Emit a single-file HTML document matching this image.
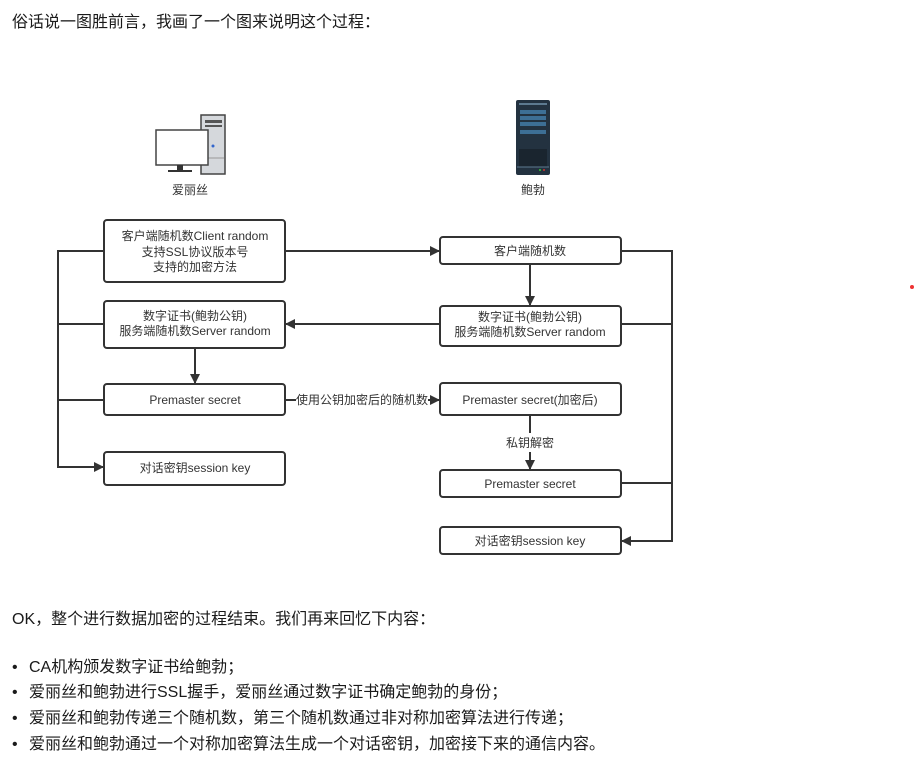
<!DOCTYPE html>
<html><head><meta charset="utf-8"><style>
html,body{margin:0;padding:0;background:#fff;width:917px;height:769px;overflow:hidden}
svg{display:block}
text{font-family:"Liberation Sans","Noto Sans CJK SC",sans-serif;fill:#222}
.b{font-size:16px;fill:#1a1a1a}
.d{font-size:12px;fill:#333;text-anchor:middle}
rect.n{fill:#fff;stroke:#333;stroke-width:2;rx:3}
line,polyline{stroke:#333;stroke-width:2;fill:none}
</style></head><body>
<svg width="917" height="769" viewBox="0 0 917 769">
<defs><marker id="a" markerWidth="10" markerHeight="10" refX="9" refY="5" orient="auto" markerUnits="userSpaceOnUse"><path d="M0,0 L10,5 L0,10 z" fill="#333"/></marker></defs>
<text class="b" x="12" y="27">俗话说一图胜前言，我画了一个图来说明这个过程：</text>

<rect x="201" y="115" width="24" height="59" fill="#d5d8dc" stroke="#444" stroke-width="1.5"/>
<rect x="205" y="120" width="17" height="3" fill="#555"/>
<rect x="205" y="125" width="17" height="2" fill="#555"/>
<line x1="202" y1="158" x2="224" y2="158" style="stroke:#999;stroke-width:1"/>
<circle cx="213" cy="146" r="1.5" fill="#3366cc"/>
<rect x="156" y="130" width="52" height="35" fill="#fff" stroke="#444" stroke-width="1.5"/>
<rect x="177" y="165" width="6" height="6" fill="#333"/>
<rect x="168" y="170" width="24" height="2" fill="#333"/>
<text class="d" x="190" y="194">爱丽丝</text>

<rect x="516" y="100" width="34" height="75" rx="2" fill="#233240"/>
<rect x="519" y="103" width="28" height="2" fill="#5d7a90"/>
<rect x="520" y="110" width="26" height="4" fill="#3d6f95"/>
<rect x="520" y="116" width="26" height="4" fill="#3d6f95"/>
<rect x="520" y="122" width="26" height="4" fill="#3d6f95"/>
<rect x="520" y="130" width="26" height="4" fill="#3d6f95"/>
<rect x="519" y="149" width="28" height="18" fill="#1a252f"/>
<line x1="517" y1="167" x2="549" y2="167" style="stroke:#5d7a90;stroke-width:1"/>
<circle cx="540" cy="170" r="1" fill="#3c3"/><circle cx="544" cy="170" r="1" fill="#c33"/>
<text class="d" x="533" y="194">鲍勃</text>

<line x1="285" y1="251" x2="439" y2="251" marker-end="url(#a)"/>
<line x1="530" y1="264" x2="530" y2="305" marker-end="url(#a)"/>
<line x1="440" y1="324" x2="286" y2="324" marker-end="url(#a)"/>
<line x1="195" y1="348" x2="195" y2="383" marker-end="url(#a)"/>
<line x1="285" y1="400" x2="296" y2="400"/>
<line x1="428" y1="400" x2="439" y2="400" marker-end="url(#a)"/>
<line x1="530" y1="415" x2="530" y2="433"/>
<line x1="530" y1="452" x2="530" y2="469" marker-end="url(#a)"/>
<polyline points="104,251 58,251 58,467 103,467" marker-end="url(#a)"/>
<line x1="58" y1="324" x2="104" y2="324"/>
<line x1="58" y1="400" x2="104" y2="400"/>
<polyline points="621,251 672,251 672,541 622,541" marker-end="url(#a)"/>
<line x1="621" y1="324" x2="672" y2="324"/>
<line x1="621" y1="483" x2="672" y2="483"/>

<rect class="n" x="104" y="220" width="181" height="62"/>
<text class="d" x="195" y="240">客户端随机数Client random</text>
<text class="d" x="195" y="256">支持SSL协议版本号</text>
<text class="d" x="195" y="271">支持的加密方法</text>
<rect class="n" x="104" y="301" width="181" height="47"/>
<text class="d" x="195" y="320">数字证书(鲍勃公钥)</text>
<text class="d" x="195" y="335">服务端随机数Server random</text>
<rect class="n" x="104" y="384" width="181" height="31"/>
<text class="d" x="195" y="404">Premaster secret</text>
<rect class="n" x="104" y="452" width="181" height="33"/>
<text class="d" x="195" y="472">对话密钥session key</text>

<rect class="n" x="440" y="237" width="181" height="27"/>
<text class="d" x="530" y="255">客户端随机数</text>
<rect class="n" x="440" y="306" width="181" height="40"/>
<text class="d" x="530" y="321">数字证书(鲍勃公钥)</text>
<text class="d" x="530" y="336">服务端随机数Server random</text>
<rect class="n" x="440" y="383" width="181" height="32"/>
<text class="d" x="530" y="404">Premaster secret(加密后)</text>
<rect class="n" x="440" y="470" width="181" height="27"/>
<text class="d" x="530" y="488">Premaster secret</text>
<rect class="n" x="440" y="527" width="181" height="27"/>
<text class="d" x="530" y="545">对话密钥session key</text>

<text class="d" x="362" y="404">使用公钥加密后的随机数</text>
<text class="d" x="530" y="447">私钥解密</text>

<circle cx="912" cy="287" r="2" fill="#e33"/>

<text class="b" x="12" y="624">OK，整个进行数据加密的过程结束。我们再来回忆下内容：</text>
<text class="b" x="12" y="672">•</text><text class="b" x="29" y="672">CA机构颁发数字证书给鲍勃；</text>
<text class="b" x="12" y="697">•</text><text class="b" x="29" y="697">爱丽丝和鲍勃进行SSL握手，爱丽丝通过数字证书确定鲍勃的身份；</text>
<text class="b" x="12" y="723">•</text><text class="b" x="29" y="723">爱丽丝和鲍勃传递三个随机数，第三个随机数通过非对称加密算法进行传递；</text>
<text class="b" x="12" y="749">•</text><text class="b" x="29" y="749">爱丽丝和鲍勃通过一个对称加密算法生成一个对话密钥，加密接下来的通信内容。</text>
</svg>
</body></html>
